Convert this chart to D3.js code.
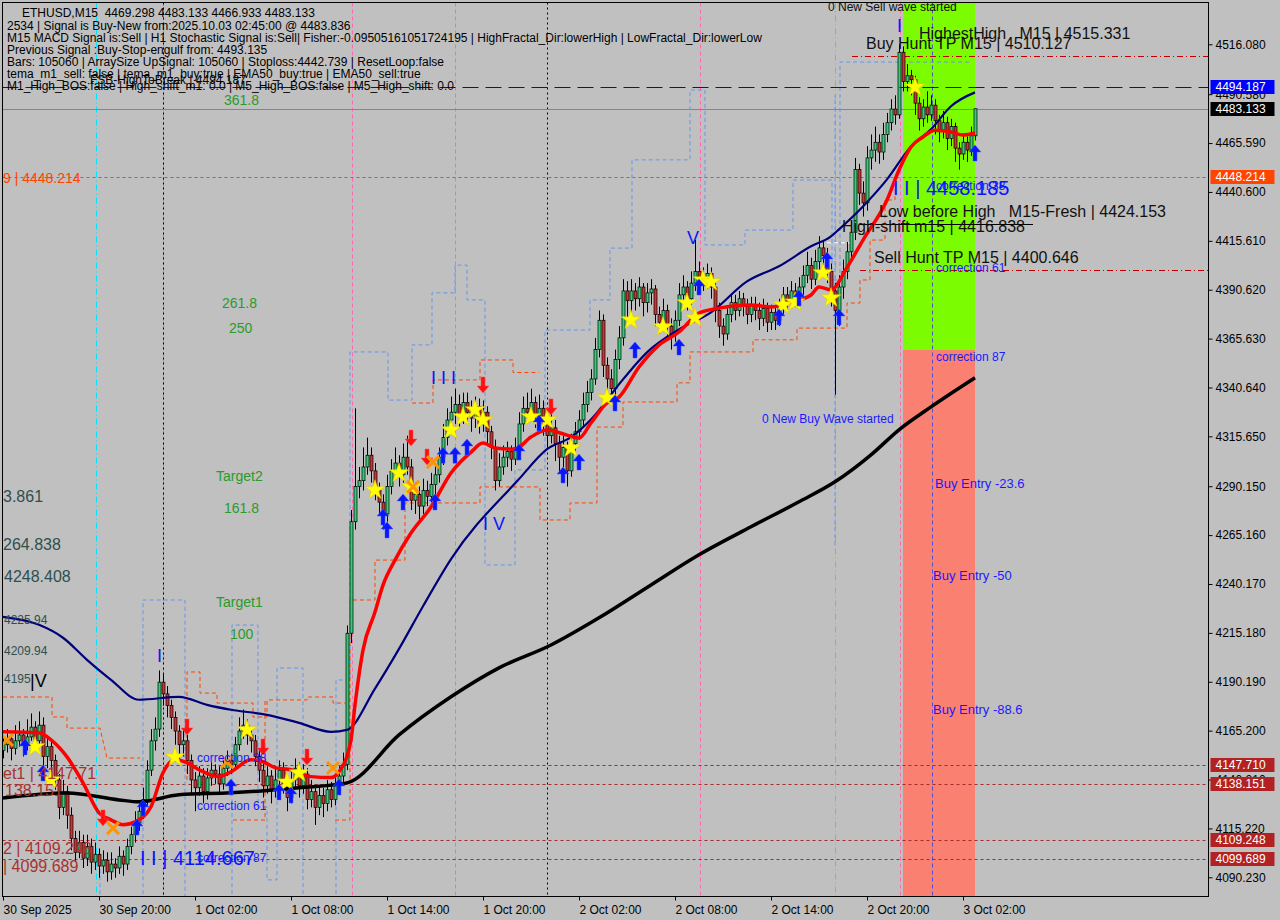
<!DOCTYPE html>
<html><head><meta charset="utf-8">
<script src="https://cdn.jsdelivr.net/npm/d3@7/dist/d3.min.js"></script>
<style>
html,body{margin:0;padding:0;background:#c0c0c0;}
svg{display:block;font-family:"Liberation Sans",Arial,sans-serif;}
text{white-space:pre;}
</style></head><body>
<svg id="chart" width="1280" height="920"></svg>
<script>
// ---------------- DATA ----------------
const barStartUTC = Date.UTC(2025, 8, 30, 14, 0); // first bar 30 Sep 2025 14:00, M15 bars
const barMinutes = 15;

const candleOpen = [4155,4158,4161,4156,4160,4163,4158,4162,4167,4160,
4168,4152,4157,4150,4140,4126,4134,4122,4110,4103,
4108,4100,4106,4098,4102,4096,4099,4093,4097,4095,
4101,4097,4106,4112,4118,4124,4130,4145,4160,4166,
4190,4184,4178,4172,4165,4158,4160,4150,4140,4136,
4142,4134,4141,4145,4143,4138,4146,4150,4148,4158,
4165,4168,4163,4160,4152,4145,4137,4142,4135,4140,
4145,4138,4131,4140,4146,4137,4143,4130,4134,4126,
4132,4128,4135,4130,4137,4142,4148,4215,4272,4290,
4293,4300,4306,4298,4288,4282,4276,4290,4298,4302,
4296,4305,4300,4283,4286,4280,4288,4285,4291,4296,
4305,4315,4324,4328,4332,4326,4333,4328,4325,4331,
4322,4328,4318,4310,4293,4300,4305,4308,4304,4310,
4322,4330,4328,4333,4326,4330,4322,4316,4320,4312,
4305,4310,4298,4312,4318,4324,4332,4338,4345,4360,
4375,4352,4345,4340,4355,4366,4390,4385,4390,4386,
4392,4384,4389,4391,4378,4374,4380,4372,4368,4375,
4388,4392,4386,4394,4400,4397,4395,4399,4392,4380,
4372,4368,4378,4384,4380,4386,4382,4378,4383,4380,
4376,4381,4374,4379,4375,4382,4388,4384,4390,4386,
4392,4398,4403,4396,4405,4412,4408,4400,4390,4380,
4392,4400,4410,4420,4452,4440,4435,4458,4462,4466,
4461,4470,4476,4483,4480,4512,4497,4500,4498,4486,
4478,4484,4480,4485,4477,4472,4476,4468,4474,4463,
4460,4466,4462,4469.298];

const candleHigh = [4163,4166,4164,4168,4170,4166,4171,4174,4170,4175,
4172,4161,4160,4153,4143,4140,4137,4126,4114,4114,
4112,4112,4110,4108,4105,4104,4103,4103,4100,4106,
4104,4110,4116,4124,4128,4136,4150,4166,4172,4196,
4194,4188,4181,4175,4168,4166,4163,4153,4144,4147,
4146,4146,4149,4148,4147,4150,4155,4153,4162,4172,
4176,4171,4167,4163,4155,4149,4147,4145,4146,4150,
4149,4142,4145,4151,4149,4148,4146,4140,4137,4137,
4136,4140,4139,4142,4147,4154,4219,4278,4330,4300,
4310,4315,4310,4302,4292,4286,4296,4304,4310,4306,
4312,4316,4304,4292,4290,4294,4293,4297,4302,4310,
4322,4330,4336,4340,4337,4338,4338,4334,4336,4335,
4334,4331,4321,4314,4307,4311,4313,4311,4315,4328,
4336,4338,4340,4336,4337,4334,4326,4327,4324,4316,
4316,4313,4317,4323,4329,4338,4344,4350,4366,4380,
4378,4356,4350,4360,4372,4396,4395,4396,4394,4397,
4394,4394,4396,4393,4382,4386,4383,4376,4380,4394,
4398,4395,4400,4416,4405,4402,4404,4402,4394,4384,
4376,4382,4388,4388,4390,4389,4386,4387,4387,4384,
4386,4384,4383,4382,4386,4392,4392,4395,4394,4397,
4403,4410,4407,4411,4418,4416,4412,4404,4394,4398,
4406,4415,4426,4458,4455,4446,4464,4470,4474,4470,
4476,4481,4488,4490,4516,4515,4506,4503,4500,4489,
4488,4492,4490,4488,4480,4482,4479,4478,4476,4466,
4470,4469,4474,4483.133];

const candleLow = [4151,4154,4150,4153,4157,4152,4155,4160,4156,4158,
4147,4146,4144,4135,4120,4122,4115,4104,4098,4100,
4095,4096,4092,4094,4090,4092,4088,4089,4090,4092,
4091,4094,4102,4108,4114,4120,4127,4142,4155,4162,
4178,4172,4166,4158,4150,4152,4143,4133,4124,4132,
4128,4130,4137,4138,4133,4135,4142,4143,4145,4155,
4161,4158,4154,4147,4139,4131,4133,4128,4131,4136,
4133,4124,4128,4136,4131,4133,4125,4126,4117,4122,
4121,4124,4126,4127,4133,4139,4145,4210,4268,4284,
4288,4296,4292,4283,4276,4268,4272,4286,4294,4290,
4292,4296,4278,4276,4273,4276,4280,4282,4286,4292,
4301,4311,4320,4322,4320,4322,4322,4318,4320,4317,
4318,4312,4304,4288,4290,4296,4300,4298,4301,4307,
4318,4323,4324,4320,4322,4316,4310,4312,4303,4297,
4300,4290,4295,4308,4314,4320,4328,4334,4342,4356,
4346,4338,4333,4336,4350,4362,4374,4378,4380,4382,
4377,4379,4383,4372,4368,4370,4366,4360,4364,4372,
4384,4380,4383,4390,4392,4390,4391,4386,4374,4366,
4362,4365,4374,4375,4377,4377,4373,4374,4375,4370,
4372,4369,4370,4370,4372,4378,4380,4381,4382,4383,
4388,4394,4391,4393,4400,4402,4394,4382,4337,4372,
4386,4396,4405,4416,4434,4428,4431,4452,4456,4455,
4457,4466,4472,4475,4478,4492,4492,4490,4480,4472,
4474,4476,4477,4470,4466,4468,4462,4464,4456,4452,
4457,4456,4459,4466.933];

const candleClose = [4158,4161,4156,4160,4163,4158,4162,4167,4160,4168,
4152,4157,4150,4140,4126,4134,4122,4110,4103,4108,
4100,4106,4098,4102,4096,4099,4093,4097,4095,4101,
4097,4106,4112,4118,4124,4130,4145,4160,4166,4190,
4184,4178,4172,4165,4158,4160,4150,4140,4136,4142,
4134,4141,4145,4143,4138,4146,4150,4148,4158,4165,
4168,4163,4160,4152,4145,4137,4142,4135,4140,4145,
4138,4131,4140,4146,4137,4143,4130,4134,4126,4132,
4128,4135,4130,4137,4142,4148,4215,4272,4290,4293,
4300,4306,4298,4288,4282,4276,4290,4298,4302,4296,
4305,4300,4283,4286,4280,4288,4285,4291,4296,4305,
4315,4324,4328,4332,4326,4333,4328,4325,4331,4322,
4328,4318,4310,4293,4300,4305,4308,4304,4310,4322,
4330,4328,4333,4326,4330,4322,4316,4320,4312,4305,
4310,4298,4312,4318,4324,4332,4338,4345,4360,4375,
4352,4345,4340,4355,4366,4390,4385,4390,4386,4392,
4384,4389,4391,4378,4374,4380,4372,4368,4375,4388,
4392,4386,4394,4400,4397,4395,4399,4392,4380,4372,
4368,4378,4384,4380,4386,4382,4378,4383,4380,4376,
4381,4374,4379,4375,4382,4388,4384,4390,4386,4392,
4398,4403,4396,4405,4412,4408,4400,4390,4380,4392,
4400,4410,4420,4452,4440,4435,4458,4462,4466,4461,
4470,4476,4483,4480,4512,4497,4500,4498,4486,4478,
4484,4480,4485,4477,4472,4476,4468,4474,4463,4460,
4466,4462,4469.298,4483.133];

// moving averages (bar index, price)
const redMaBars = [0,9,12,16,20,24,27,30,33,37,40,43,46,49,54,57,62,65,68,72,77,82,84,87,88,90,93,95,98,102,107,112,117,120,123,128,132,136,141,144,147,151,154,159,164,169,174,179,187,192,197,202,204,207,211,215,221,224,227,230,233,237,240,243];
const redMaVals = [4164.6,4164.1,4160.5,4151.8,4138.5,4123.2,4119.6,4117.1,4118.6,4126.3,4143.7,4150.3,4148.8,4145.2,4141.7,4144.2,4150.3,4149.3,4146.3,4145.2,4141.7,4141.2,4144.2,4160.5,4178.3,4206.4,4225.8,4239.6,4252.4,4266.2,4279.5,4296.9,4307.6,4312.2,4309.7,4309.1,4315.3,4318.9,4316.3,4314.8,4322.5,4332.7,4335.7,4351.1,4362.3,4369,4378.7,4381.2,4382.8,4381.8,4384.3,4387.9,4392,4390.5,4402,4416,4436.5,4451.8,4463.6,4468.7,4472.2,4471.2,4469.7,4470.7];
const navyMaBars = [0,9,15,21,27,34,44,51,57,66,74,82,86,93,99,105,112,129,136,142,147,155,161,169,177,186,194,202,207,209,215,221,227,232,237,243];
const navyMaVals = [4223.4,4219.3,4212.7,4201.4,4191.2,4181,4182.5,4178.4,4175.9,4173.3,4169.2,4164.6,4165.6,4186.7,4207,4228.8,4252.9,4293.8,4309.1,4315.3,4324.3,4344.8,4358.6,4370.3,4379,4394.9,4402.6,4412.8,4417.9,4421.5,4433.2,4447,4463.9,4472.6,4484.4,4491.5];
const blackMaBars = [0,16,29,34,44,57,74,86,99,112,124,137,149,162,174,187,199,208,217,224,232,243];
const blackMaVals = [4130.8,4133.3,4129.8,4128.8,4132.4,4133.4,4136,4138.5,4163,4182.5,4197.3,4209,4222.9,4239.7,4255.1,4269.4,4282.2,4292.4,4306.2,4319,4330.7,4345.6];

// dashed channels: polylines of [bar, price]
const blueChannel = [
 [[24.25,4078],[24.25,4100.6]],
 [[35,4078],[35,4232],[45.5,4232],[45.5,4078]],
 [[57.25,4078],[57.25,4219.2],[63.75,4219.2],[63.75,4126.2],[66,4126.2],[66,4088.9],[68.5,4088.9],[68.5,4197.2],[75,4197.2],[75,4078]],
 [[83.25,4078],[83.25,4191.1],[86.75,4191.1],[86.75,4358.8],[96.25,4358.8],[96.25,4334.2],[102.25,4334.2],[102.25,4362.4],[107.25,4362.4],[107.25,4389],[113,4389],[113,4403.2],[116,4403.2],[116,4385.4],[120.5,4385.4],[120.5,4249.9],[128,4249.9],[128,4298.5],[135.5,4298.5],[135.5,4370],[146.75,4370],[146.75,4385.4],[151.75,4385.4],[151.75,4411.9],[157.25,4411.9],[157.25,4457],[171.75,4457],[171.75,4492.7],[175.5,4492.7],[175.5,4413.5],[185.5,4413.5],[185.5,4421.1],[197.5,4421.1],[197.5,4446.7],[207.25,4446.7],[207.25,4395.6],[209.25,4395.6],[209.25,4507],[242.25,4507]],
 [[208,4260.1],[208,4490]]
];
const orangeChannel = [
 [[0,4182.4],[12.25,4182.4],[12.25,4172.2],[16,4172.2],[16,4166.5],[24.25,4166.5],[26,4151.2],[34.25,4151.2]],
 [[46,4140],[46,4195.2],[49.25,4195.2],[49.25,4184.4],[53.5,4184.4],[53.5,4179.3],[62.5,4179.3],[62.5,4172.2],[66,4172.2],[66,4180.9],[76,4180.9],[76,4182.4],[82.5,4182.4],[82.5,4179.3],[85.5,4179.3]],
 [[57.5,4119.5],[65.5,4119.5],[65.5,4180.9]],
 [[83,4119.5],[86.75,4119.5],[86.75,4232],[93,4232],[93,4252.4],[100.5,4252.4],[100.5,4281.6],[119.25,4281.6],[119.25,4289.8],[134.25,4289.8],[134.25,4272.9],[141.75,4272.9],[141.75,4281.6],[148.5,4281.6],[148.5,4320.4],[155,4320.4],[155,4333.2],[168.5,4333.2],[168.5,4343],[171.75,4343],[171.75,4358.8],[187.5,4358.8],[187.5,4365],[198.5,4365],[198.5,4371],[211,4371],[211,4383.8],[214.25,4383.8],[214.25,4395.6],[216.75,4395.6],[216.75,4416],[220.5,4416],[220.5,4436.5],[223,4436.5],[223,4448.2]],
 [[102.25,4332.7],[107.5,4332.7],[107.5,4344.5],[119.25,4344.5],[119.25,4354.7],[127.5,4354.7],[127.5,4348.3],[134,4348.3]]
];
const whiteDash = [[206,4414.6],[213,4414.6]];

// signal markers
const starBars = [8,12,43,61,71,74,93,99,102,112,115,118,120,132,136,142,151,157,165,171,173,175,177,195,198,205,207,228];
const starPrices = [4156.9,4140,4151.7,4165.6,4138.9,4143.6,4288.2,4296.9,4289.8,4318.9,4325.6,4329.2,4324,4325.6,4324,4309.7,4335.3,4375.1,4371.6,4383.8,4376.2,4395.6,4394.6,4382.8,4384.3,4399.2,4386.4,4494.2];
const upArrowBars = [5.5,10,33.5,35,57,69,72,84,95,96,100,108,110,113,116,129,134,140,144,153,158,169,174,194,199,206,209,243];
const upArrowPrices = [4156.9,4143.6,4115.9,4125.7,4136.4,4133.9,4132.3,4136.4,4274.4,4267.8,4282.1,4282.1,4306,4306,4310.2,4307.6,4322.5,4295.9,4302.5,4332.7,4359.8,4361.3,4392,4376.7,4386.4,4405.8,4376.7,4460.5];
const downArrowBars = [25,46,65,76,102,106,120,137];
const downArrowPrices = [4120.6,4167.1,4156.9,4151.7,4314.8,4305.1,4341.9,4330.7];
const crossBars = [1,27.5,56,82.5,102.5,107.5];
const crossPrices = [4160.4,4115.4,4149.2,4146.1,4289.8,4302.5];

// levels
const fsbHighToBreak = 4494.187;
const currentPrice = 4483.133;
const stopLevel = 4448.214;
const targetLevels = [4147.71, 4138.151, 4109.248, 4099.689];
const buyHuntTP = 4510.127, buyHuntStartBar = 212.25;
const sellHuntTP = 4400.646, sellHuntStartBar = 214.25;
const lowBeforeHigh = 4424.153, lowBeforeHighBars = [214.25, 257.5];
const zoneBars = [225, 243];
const zoneGreen = [4545, 4359.8];
const zoneSalmon = [4359.8, 4070];

// vertical separators (bar positions)
const cyanBars = [23.25, 208];
const pinkBars = [40, 87.25, 113, 174.25, 224.25];
const blackDotBars = [40, 136];
const slateBars = [232.25];

// axis ticks
const priceTicks = [4516.080,4490.580,4465.590,4440.600,4415.610,4390.620,4365.630,4340.640,4315.650,4290.150,4265.160,4240.170,4215.180,4190.190,4165.200,4140.210,4115.220,4090.230];
const timeTickBars = [0,24,48,72,96,120,144,168,192,216,240];
const timeTickLabels = ["30 Sep 2025","30 Sep 20:00","1 Oct 02:00","1 Oct 08:00","1 Oct 14:00","1 Oct 20:00","2 Oct 02:00","2 Oct 08:00","2 Oct 14:00","2 Oct 20:00","3 Oct 02:00"];

const priceTags = [
 {v:4494.187, bg:"#0000ff"}, {v:4483.133, bg:"#000000"}, {v:4448.214, bg:"#ff4500"},
 {v:4147.710, bg:"#b22222"}, {v:4138.151, bg:"#b22222"}, {v:4109.248, bg:"#b22222"}, {v:4099.689, bg:"#b22222"}
];

const headerLines = [
 "ETHUSD,M15  4469.298 4483.133 4466.933 4483.133",
 "2534 | Signal is Buy-New from:2025.10.03 02:45:00 @ 4483.836",
 "M15 MACD Signal is:Sell | H1 Stochastic Signal is:Sell| Fisher:-0.09505161051724195 | HighFractal_Dir:lowerHigh | LowFractal_Dir:lowerLow",
 "Previous Signal :Buy-Stop-engulf from: 4493.135",
 "Bars: 105060 | ArraySize UpSignal: 105060 | Stoploss:4442.739 | ResetLoop:false",
 "tema_m1_sell: false | tema_m1_buy:true | EMA50_buy:true | EMA50_sell:true",
 "M1_High_BOS:false | High_shift_m1: 0.0 | M5_High_BOS:false | M5_High_shift: 0.0"
];

// ---------------- DRAW ----------------
const M = barMinutes*60*1000;
const N = candleClose.length;
const svg = d3.select('#chart');
const x = d3.scaleUtc().domain([new Date(barStartUTC), new Date(barStartUTC + 301.25*M)]).range([3, 1208]);
const bx = b => x(new Date(barStartUTC + b*M));
const y = d3.scaleLinear().domain([4090.23, 4516.08]).range([877.3, 44.3]);
const PL = 2.5, PT = 2.5, PR = 1208.5, PB = 896.5;

svg.append('rect').attr('width',1280).attr('height',920).attr('fill','#c0c0c0');
svg.append('defs').append('clipPath').attr('id','clip').append('rect')
  .attr('x',PL).attr('y',PT).attr('width',PR-PL).attr('height',PB-PT);
const g = svg.append('g').attr('clip-path','url(#clip)');

// zones
g.append('rect').attr('x',bx(zoneBars[0])).attr('width',bx(zoneBars[1])-bx(zoneBars[0]))
 .attr('y',y(zoneGreen[0])).attr('height',y(zoneGreen[1])-y(zoneGreen[0])).attr('fill','#7cfc00');
g.append('rect').attr('x',bx(zoneBars[0])).attr('width',bx(zoneBars[1])-bx(zoneBars[0]))
 .attr('y',y(zoneSalmon[0])).attr('height',y(zoneSalmon[1])-y(zoneSalmon[0])).attr('fill','#fa8072');

// vertical separators
const vline = (bars, color, dash, w) => g.selectAll(null).data(bars).join('line')
  .attr('x1',b=>Math.round(bx(b))+0.5).attr('x2',b=>Math.round(bx(b))+0.5).attr('y1',PT).attr('y2',PB)
  .attr('stroke',color).attr('stroke-width',w||1).attr('stroke-dasharray',dash);
vline(cyanBars,'#00e5ff','6,3,1,3');
vline(pinkBars,'#ff69b4','4,3');
vline(blackDotBars,'#000','2,3');
vline(slateBars,'#5050d0','4,3');

// horizontal levels
const hline = (p, color, dash, x1, x2, w) => g.append('line')
  .attr('x1',x1).attr('x2',x2).attr('y1',Math.round(y(p))+0.5).attr('y2',Math.round(y(p))+0.5)
  .attr('stroke',color).attr('stroke-width',w||1).attr('stroke-dasharray',dash);
targetLevels.forEach(p => hline(p,'#a52a2a','3,3',PL,PR));
hline(stopLevel,'#ff4500','3,3',PL,PR);
hline(currentPrice,'#778899',null,PL,PR);
hline(buyHuntTP,'#c00000','6,3,1,3',bx(buyHuntStartBar),PR);
hline(sellHuntTP,'#c00000','6,3,1,3',bx(sellHuntStartBar),PR);
hline(lowBeforeHigh,'#000',null,bx(lowBeforeHighBars[0]),bx(lowBeforeHighBars[1]));

// channels
const pl = d3.line().x(d=>bx(d[0])).y(d=>y(d[1]));
g.selectAll(null).data(blueChannel).join('path').attr('d',pl).attr('fill','none')
 .attr('stroke','#6495ed').attr('stroke-width',1).attr('stroke-dasharray','4,3');
g.selectAll(null).data(orangeChannel).join('path').attr('d',pl).attr('fill','none')
 .attr('stroke','#ff4500').attr('stroke-width',1).attr('stroke-dasharray','4,3');
g.append('path').attr('d',pl(whiteDash)).attr('stroke','#ffffff').attr('stroke-dasharray','4,3').attr('fill','none');

// candles
const idx = d3.range(N);
const cx = i => Math.round(bx(i)) + 0.5;
g.selectAll(null).data(idx).join('line')
 .attr('x1',cx).attr('x2',cx).attr('y1',i=>y(candleHigh[i])).attr('y2',i=>y(candleLow[i]))
 .attr('stroke','#000').attr('stroke-width',1);
g.selectAll(null).data(idx).join('rect')
 .attr('x',i=>cx(i)-1.5).attr('width',3)
 .attr('y',i=>y(Math.max(candleOpen[i],candleClose[i])))
 .attr('height',i=>Math.max(1,Math.abs(y(candleOpen[i])-y(candleClose[i]))))
 .attr('fill',i=>candleClose[i]>=candleOpen[i]?'#33cc77':'#cc3333')
 .attr('stroke','#000').attr('stroke-width',0.7);

// FSB level (bright blue long dashes) drawn over candles
hline(fsbHighToBreak,'#0000ff','16,7',PL,PR,1.2);

// moving averages
const ma = (bars, vals, color, w) => g.append('path')
 .datum(bars.map((b,k)=>[b,vals[k]]))
 .attr('d', d3.line().x(d=>bx(d[0])).y(d=>y(d[1])).curve(d3.curveMonotoneX))
 .attr('fill','none').attr('stroke',color).attr('stroke-width',w).attr('stroke-linejoin','round');
ma(blackMaBars, blackMaVals, '#000', 3.5);
ma(navyMaBars, navyMaVals, '#00007a', 2.2);
ma(redMaBars, redMaVals, '#ff0000', 3.5);

// markers
g.selectAll(null).data(starBars).join('path')
 .attr('d', d3.symbol(d3.symbolStar, 120))
 .attr('transform',(b,k)=>`translate(${bx(b)},${y(starPrices[k])})`)
 .attr('fill','#ffff00').attr('stroke','#e8c800').attr('stroke-width',0.6);
const upPath = "M0,-8 L6,-1 L2,-1 L2,8 L-2,8 L-2,-1 L-6,-1 Z";
g.selectAll(null).data(upArrowBars).join('path').attr('d',upPath)
 .attr('transform',(b,k)=>`translate(${bx(b)},${y(upArrowPrices[k])})`)
 .attr('fill','#0a14ff').attr('stroke','#3a60ff').attr('stroke-width',0.5);
g.selectAll(null).data(downArrowBars).join('path').attr('d',upPath)
 .attr('transform',(b,k)=>`translate(${bx(b)},${y(downArrowPrices[k])}) rotate(180)`)
 .attr('fill','#ff1010').attr('stroke','#ff5050').attr('stroke-width',0.5);
g.selectAll(null).data(crossBars).join('path').attr('d','M-6,-6L6,6M-6,6L6,-6')
 .attr('transform',(b,k)=>`translate(${bx(b)},${y(crossPrices[k])})`)
 .attr('stroke','#ff9400').attr('stroke-width',3).attr('fill','none');

// ---------- texts ----------
const T = (txt, xx, yy, size, color) =>
  g.append('text').attr('x',xx).attr('y',yy).attr('font-size',size).attr('fill',color)
   .attr('xml:space','preserve').text(txt);
// green fib labels
[["361.8",224,105],["261.8",222,308],["250",229,333],["Target2",216,481],["161.8",224,513],["Target1",216,607],["100",230,639]]
 .forEach(d=>T(d[0],d[1],d[2],14,'#2a9a2a'));
// left grey numbers
[["3.861",3,502,16],["264.838",3,550,16],["4248.408",4,582,16],["4225.94",4,624,12],["4209.94",4,655,12],["4195",4,683,12]]
 .forEach(d=>T(d[0],d[1],d[2],d[3],'#2f4f4f'));
T("|V",30,687,18,'#000');
// left brown labels
[["et1 | 4147.71",3,y(4147.71)+14],["138.151",5,y(4138.151)+12],["2 | 4109.248",3,y(4109.248)+14],["| 4099.689",3,y(4099.689)+13]]
 .forEach(d=>T(d[0],d[1],d[2],16,'#a83232'));
T("9 | 4448.214",3,y(stopLevel)+6,14,'#ff4500');

// right annotations
T("HighestHigh   M15 | 4515.331",919,39,16,'#111');
T("Buy Hunt TP M15 | 4510.127",866,49,16,'#111');
T("Low before High   M15-Fresh | 4424.153",879,217,16,'#111');
T("High-shift m15 | 4416.838",842,232,16,'#111');
T("Sell Hunt TP M15 | 4400.646",874,263,16,'#111');
T("0 New Sell wave started",828,11,12,'#111');
T("0 New Buy Wave started",762,423,12,'#1a1aff');
T("correction 38",936,190,12,'#1a1aff');
T("correction 61",936,272,12,'#1a1aff');
T("correction 87",936,361,12,'#1a1aff');
T("Buy Entry -23.6",935,488,13,'#1a1aff');
T("Buy Entry -50",933,580,13,'#1a1aff');
T("Buy Entry -88.6",933,714,13,'#1a1aff');
T("I I | 4458.185",893,195,20,'#0a14ff');
T("correction 38",197,762,12,'#1a1aff');
T("correction 61",197,810,12,'#1a1aff');
T("correction 87",197,862,12,'#1a1aff');
T("I I | 4114.667",140,865,20,'#0a14ff');
T("I I I",431,384,18,'#0a14ff');
T("I V",483,530,18,'#0a14ff');
T("V",687,244,18,'#0a14ff');
T("I",157,662,18,'#0a14ff');
T("I",897,32,18,'#0a14ff');
// header
headerLines.forEach((s,k)=>T(s, k===0?22:7, 17+12*k + (k>0?1:0), 12, '#000'));
T("FSB-HighToBreak | 4494.187",90,84,12,'#000');

// frame
svg.append('rect').attr('x',PL).attr('y',PT).attr('width',PR-PL).attr('height',PB-PT)
 .attr('fill','none').attr('stroke','#000').attr('stroke-width',1);

// y axis
const ya = svg.append('g').attr('transform',`translate(${PR},0)`)
 .call(d3.axisRight(y).tickValues(priceTicks).tickSize(4).tickPadding(3).tickFormat(d3.format('.3f')));
ya.select('.domain').remove();
ya.selectAll('text').attr('font-size',12).attr('font-family','"Liberation Sans",Arial,sans-serif').attr('fill','#000');
ya.selectAll('line').attr('stroke','#000');

// x axis
const xa = svg.append('g').attr('transform',`translate(0,${PB})`)
 .call(d3.axisBottom(x).tickValues(timeTickBars.map(b=>new Date(barStartUTC+b*M))).tickSize(4)
   .tickFormat((d,k)=>timeTickLabels[k]));
xa.select('.domain').remove();
xa.selectAll('text').attr('text-anchor','start').attr('dx',0).attr('y',9).attr('dy','0.71em')
 .attr('font-size',12).attr('font-family','"Liberation Sans",Arial,sans-serif').attr('fill','#000');
xa.selectAll('line').attr('stroke','#000');

// price tags on right axis
const tag = svg.selectAll(null).data(priceTags).join('g')
 .attr('transform',d=>`translate(${PR+2},${Math.round(y(d.v))-7})`);
tag.append('rect').attr('width',64).attr('height',14).attr('fill',d=>d.bg);
tag.append('text').attr('x',5).attr('y',11).attr('font-size',12).attr('fill','#fff').text(d=>d3.format('.3f')(d.v));
</script>
</body></html>
